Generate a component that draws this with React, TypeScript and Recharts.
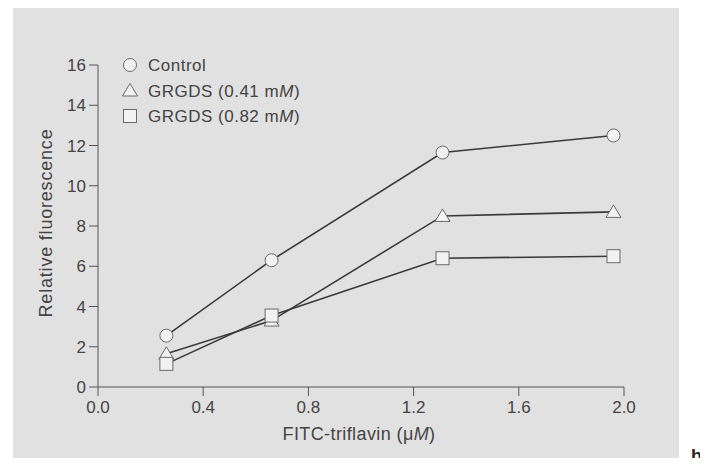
import React from "react";
import { LineChart, Line, XAxis, YAxis } from "recharts";

const concentrations = [0.26, 0.66, 1.31, 1.96];
const control = [2.55, 6.3, 11.65, 12.5];
const grgdsLow = [1.65, 3.3, 8.5, 8.7];
const grgdsHigh = [1.15, 3.55, 6.4, 6.5];
const xTicks = [0, 0.4, 0.8, 1.2, 1.6, 2.0];
const yTicks = [0, 2, 4, 6, 8, 10, 12, 14, 16];

const data = concentrations.map((x, i) => ({
  x,
  control: control[i],
  low: grgdsLow[i],
  high: grgdsHigh[i],
}));

const FONT = "'Liberation Sans', Arial, sans-serif";
const TEXT = "#444";
const LINE = "#3a3a3a";
const MARK_FILL = "#f2f2f2";
const MARK_STROKE = "#6a6a6a";

type Kind = "circle" | "triangle" | "square";

function shape(kind: Kind, cx: number, cy: number, key?: string) {
  if (kind === "circle") {
    return <circle key={key} cx={cx} cy={cy} r={6.5} fill={MARK_FILL} stroke={MARK_STROKE} strokeWidth={1} />;
  }
  if (kind === "triangle") {
    const p = `${cx},${cy - 7} ${cx + 7.5},${cy + 5.5} ${cx - 7.5},${cy + 5.5}`;
    return <polygon key={key} points={p} fill={MARK_FILL} stroke={MARK_STROKE} strokeWidth={1} />;
  }
  return <rect key={key} x={cx - 6.5} y={cy - 6.5} width={13} height={13} fill={MARK_FILL} stroke={MARK_STROKE} strokeWidth={1} />;
}

const dotFor = (kind: Kind) => (props: any) =>
  shape(kind, props.cx, props.cy, `${kind}-${props.index}`);

const legendItems: { kind: Kind; label: React.ReactNode }[] = [
  { kind: "circle", label: "Control" },
  { kind: "triangle", label: <>GRGDS (0.41 m<tspan fontStyle="italic">M</tspan>)</> },
  { kind: "square", label: <>GRGDS (0.82 m<tspan fontStyle="italic">M</tspan>)</> },
];

// legend drawn as an overlay so it doesn't push the plot area around
function LegendBox() {
  return (
    <svg width={220} height={80} style={{ position: "absolute", left: 120, top: 55 }}>
      {legendItems.map((it, i) => (
        <g key={i}>
          {shape(it.kind, 10, 10 + i * 25.5)}
          <text x={28} y={10 + i * 25.5 + 6} fontSize={17} letterSpacing={0.5} fill={TEXT} fontFamily={FONT}>
            {it.label}
          </text>
        </g>
      ))}
    </svg>
  );
}

export default function App() {
  return (
    <div style={{ position: "relative", width: 708, height: 466, margin: -8, background: "#fff", overflow: "hidden" }}>
      <div style={{ position: "absolute", left: 13, top: 8, width: 666, height: 458, background: "#e1e1e1" }} />
      <div style={{ position: "absolute", left: 0, top: 0 }}>
        <LineChart width={708} height={466} data={data} margin={{ top: 65, right: 84, bottom: 0, left: 0 }}>
          <XAxis
            type="number"
            dataKey="x"
            domain={[0, 2]}
            ticks={xTicks}
            tickFormatter={(v: number) => v.toFixed(1)}
            height={79}
            tickSize={9}
            tickMargin={5}
            stroke="#555"
            tick={{ fill: TEXT, fontSize: 17, fontFamily: FONT }}
            label={{
              content: ({ viewBox }: any) => (
                <text x={viewBox.x + viewBox.width / 2 - 2} y={440} textAnchor="middle" fontSize={18} letterSpacing={0.4} fill={TEXT} fontFamily={FONT}>
                  FITC-triflavin (μ<tspan fontStyle="italic">M</tspan>)
                </text>
              ),
            }}
          />
          <YAxis
            type="number"
            domain={[0, 16]}
            ticks={yTicks}
            width={98}
            tickSize={9}
            tickMargin={3}
            stroke="#555"
            tick={{ fill: TEXT, fontSize: 17, fontFamily: FONT }}
            label={{
              content: ({ viewBox }: any) => (
                <text
                  x={52}
                  y={viewBox.y + viewBox.height / 2 - 3}
                  transform={`rotate(-90 52 ${viewBox.y + viewBox.height / 2 - 3})`}
                  textAnchor="middle"
                  fontSize={18}
                  letterSpacing={0.8}
                  fill={TEXT}
                  fontFamily={FONT}
                >
                  Relative fluorescence
                </text>
              ),
            }}
          />
          <Line dataKey="control" stroke={LINE} strokeWidth={1.6} dot={dotFor("circle")} isAnimationActive={false} />
          <Line dataKey="low" stroke={LINE} strokeWidth={1.6} dot={dotFor("triangle")} isAnimationActive={false} />
          <Line dataKey="high" stroke={LINE} strokeWidth={1.6} dot={dotFor("square")} isAnimationActive={false} />
        </LineChart>
      </div>
      <LegendBox />
      <svg width={30} height={30} style={{ position: "absolute", left: 685, top: 434 }}>
        <text x={6} y={28} fontSize={18} fontWeight="bold" fill="#222" fontFamily={FONT}>b</text>
      </svg>
    </div>
  );
}
